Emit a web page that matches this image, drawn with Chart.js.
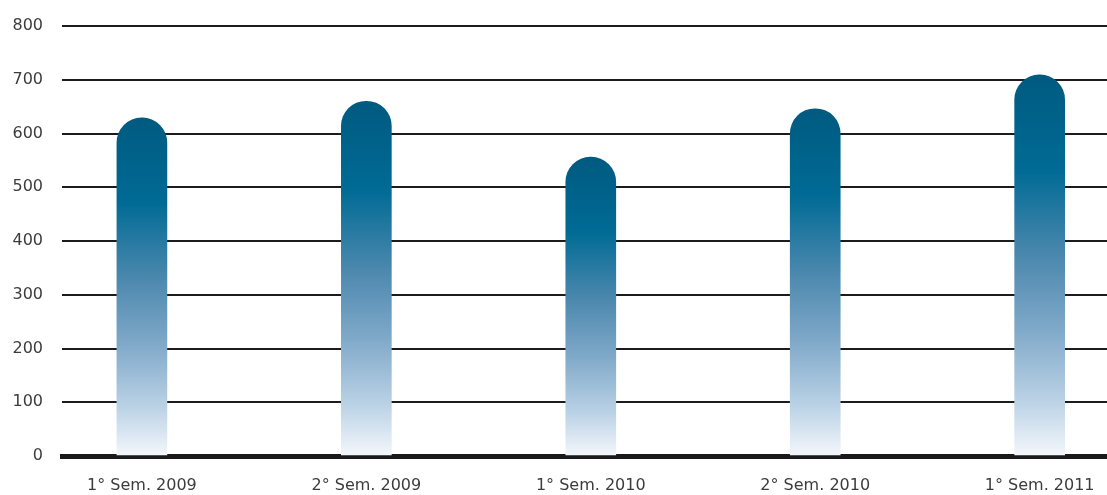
<!DOCTYPE html>
<html>
<head>
<meta charset="utf-8">
<script src="https://cdn.jsdelivr.net/npm/chart.js@4/dist/chart.umd.min.js"></script>
<style>
  html, body { margin: 0; padding: 0; background: #fff; }
  #wrap { width: 1107px; height: 495px; }
</style>
</head>
<body>
<div id="wrap"><canvas id="chartcanvas"></canvas></div>
<script>
// semesters on the x axis
var categories = ["1° Sem. 2009", "2° Sem. 2009", "1° Sem. 2010", "2° Sem. 2010", "1° Sem. 2011"];
// bar heights
var values = [629, 660, 556, 646, 709];
// y axis ticks
var yTicks = [0, 100, 200, 300, 400, 500, 600, 700, 800];

// bar fill: dark teal at the top fading to white at the base, per bar
function barGradient(context) {
	var chart = context.chart;
	if (!chart.chartArea) return "#005a82";
	var y = chart.scales.y;
	var top = y.getPixelForValue(context.parsed.y);
	var bottom = y.getPixelForValue(0);
	var g = chart.ctx.createLinearGradient(0, top, 0, bottom);
	g.addColorStop(0, "#005a80");
	g.addColorStop(0.25, "#006b95");
	g.addColorStop(0.47, "#4a87ad");
	g.addColorStop(0.67, "#80a9c9");
	g.addColorStop(0.86, "#bcd3e6");
	g.addColorStop(1, "#f4f7fb");
	return g;
}

var points = [];
for (var i = 0; i < values.length; i++) {
	points.push({ x: i, y: values[i] });
}

var ctx = document.getElementById("chartcanvas");
var chart = new Chart(ctx, {
	type: "bar",
	data: {
		datasets: [{
			data: points,
			backgroundColor: barGradient,
			borderWidth: 0,
			borderSkipped: "bottom",
			borderRadius: { topLeft: 25, topRight: 25, bottomLeft: 0, bottomRight: 0 },
			barThickness: 50
		}]
	},
	options: {
		responsive: true,
		maintainAspectRatio: false,
		animation: false,
		layout: { padding: { top: 26, right: 0, left: 0, bottom: 0 } },
		plugins: {
			legend: { display: false },
			tooltip: { enabled: false }
		},
		scales: {
			x: {
				type: "linear",
				offset: false,
				min: -0.356,
				max: 4.3,
				afterBuildTicks: function(axis) {
					axis.ticks = categories.map(function(c, i) { return { value: i }; });
				},
				afterFit: function(scale) {
					scale.height = 39;
					// keep the plot running to the right edge
					scale.paddingLeft = 0;
					scale.paddingRight = 0;
				},
				grid: { display: false, drawTicks: false },
				border: { display: true, color: "#1a1a1a", width: 5 },
				ticks: {
					padding: 20,
					maxRotation: 0,
					autoSkip: false,
					color: "#3c3c3c",
					font: { family: "DejaVu Sans", size: 16 },
					callback: function(v) { return categories[v]; }
				}
			},
			y: {
				min: 0,
				max: 800,
				afterBuildTicks: function(axis) {
					axis.ticks = yTicks.map(function(v) { return { value: v }; });
				},
				afterFit: function(scale) {
					scale.width = 62;
					scale.paddingTop = 0;
					scale.paddingBottom = 0;
				},
				grid: { color: "#1c1c1c", lineWidth: 2, drawTicks: false },
				border: { display: false },
				ticks: {
					padding: 19,
					color: "#3c3c3c",
					font: { family: "DejaVu Sans", size: 16 }
				}
			}
		}
	}
});
</script>
</body>
</html>
